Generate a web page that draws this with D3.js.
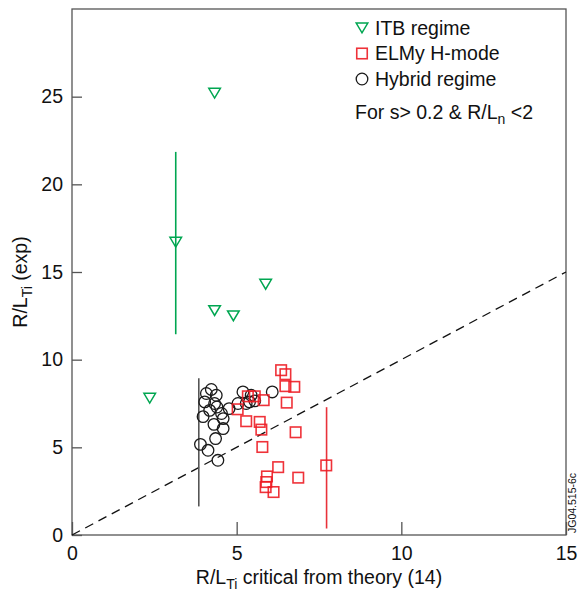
<!DOCTYPE html>
<html><head><meta charset="utf-8">
<script src="https://cdn.jsdelivr.net/npm/d3@7/dist/d3.min.js"></script>
<style>
body{margin:0;background:#fff;}
svg{display:block;font-family:"Liberation Sans",Arial,Helvetica,sans-serif;}
</style></head><body>
<svg id="c" width="582" height="592"></svg>
<script>
// ---- data ----
const itbX = [4.33, 3.15, 5.88, 4.33, 4.90, 2.36];
const itbY = [25.2, 16.7, 14.3, 12.8, 12.5, 7.8];

const elmyX = [6.35, 6.48, 6.48, 6.75, 6.52, 5.03, 5.34, 5.55, 5.82, 5.29, 5.70, 5.75, 6.79, 5.78, 6.26, 6.87, 5.92, 5.90, 5.88, 6.12, 7.72];
const elmyY = [9.40, 9.17, 8.49, 8.45, 7.55, 7.17, 7.91, 7.91, 7.69, 6.49, 6.45, 6.01, 5.86, 5.02, 3.87, 3.27, 3.34, 3.02, 2.73, 2.45, 3.97];

const hybridX = [4.23, 4.08, 4.38, 4.03, 4.33, 5.19, 6.08, 5.44, 5.55, 5.29, 5.04, 4.77, 4.54, 4.40, 4.18, 3.98, 4.59, 4.59, 4.31, 4.36, 3.90, 4.13, 4.43, 5.39];
const hybridY = [8.30, 8.07, 7.97, 7.59, 7.50, 8.16, 8.16, 7.97, 7.65, 7.50, 7.50, 7.21, 6.93, 7.30, 7.11, 6.75, 6.64, 6.07, 6.31, 5.50, 5.17, 4.83, 4.26, 7.59];

// error bars: [series, x, low, high]
const errSeries = ["itb", "hybrid", "elmy"];
const errX = [3.15, 3.85, 7.73];
const errLow = [11.45, 1.63, 0.37];
const errHigh = [21.85, 8.94, 7.29];

const xTicks = [0, 5, 10, 15];
const yTicks = [0, 5, 10, 15, 20, 25];
const diagX = [0, 15];

const legendLabels = ["ITB regime", "ELMy H-mode", "Hybrid regime"];

// ---- layout ----
const svg = d3.select("#c");
const L = 72, R = 566, T = 9, B = 535;
const x = d3.scaleLinear().domain([0, 15]).range([L, R]);
const y = d3.scaleLinear().domain([0, 30]).range([B, T]);

const colors = {itb: "#00a651", elmy: "#ed1c24", hybrid: "#1a1a1a"};
const errColors = {itb: "#00a651", elmy: "#e8323a", hybrid: "#555"};
const axisColor = "#555";
const FS = "19.5px", SUB = "14px";

// frame
svg.append("rect").attr("x", L).attr("y", T).attr("width", R - L).attr("height", B - T)
  .attr("fill", "none").attr("stroke", axisColor).attr("stroke-width", 1.3);

// axes (inward ticks)
const xAxis = d3.axisBottom(x).tickValues(xTicks).tickSize(-13).tickPadding(16).tickFormat(d3.format("d"));
const gx = svg.append("g").attr("transform", `translate(0,${B})`).call(xAxis);
const yAxis = d3.axisLeft(y).tickValues(yTicks).tickSize(-10).tickPadding(14).tickFormat(d3.format("d"));
const gy = svg.append("g").attr("transform", `translate(${L},0)`).call(yAxis);
[gx, gy].forEach(g => {
  g.select(".domain").remove();
  g.selectAll(".tick line").attr("stroke", axisColor).attr("stroke-width", 1.3);
  g.selectAll(".tick text").attr("fill", "#111").style("font-size", FS);
});
gy.selectAll(".tick text").attr("dy", "0.32em").attr("dx", "5");
gx.selectAll(".tick text").attr("dy", "0.45em");

// diagonal dashed line
svg.append("line")
  .attr("x1", x(diagX[0])).attr("y1", y(diagX[0]))
  .attr("x2", x(diagX[1])).attr("y2", y(diagX[1]))
  .attr("stroke", "#111").attr("stroke-width", 1.3).attr("stroke-dasharray", "9,6");

// error bars
errSeries.forEach((s, i) => {
  svg.append("line")
    .attr("x1", x(errX[i])).attr("x2", x(errX[i]))
    .attr("y1", y(errLow[i])).attr("y2", y(errHigh[i]))
    .attr("stroke", errColors[s]).attr("stroke-width", 1.6);
});

// markers
function tri(g, cx, cy, col) {
  const w = 5.8, h = 9.8;
  g.append("path")
    .attr("d", `M${cx - w},${cy - h / 2}L${cx + w},${cy - h / 2}L${cx},${cy + h / 2}Z`)
    .attr("fill", "none").attr("stroke", col).attr("stroke-width", 1.5);
}
function sq(g, cx, cy, col) {
  const s = 10.5;
  g.append("rect").attr("x", cx - s / 2).attr("y", cy - s / 2).attr("width", s).attr("height", s)
    .attr("fill", "none").attr("stroke", col).attr("stroke-width", 1.6).attr("stroke-opacity", 0.9);
}
function circ(g, cx, cy, col) {
  g.append("circle").attr("cx", cx).attr("cy", cy).attr("r", 5.8)
    .attr("fill", "none").attr("stroke", col).attr("stroke-width", 1.3);
}

const gm = svg.append("g");
hybridX.forEach((v, i) => circ(gm, x(v), y(hybridY[i]), colors.hybrid));
elmyX.forEach((v, i) => sq(gm, x(v), y(elmyY[i]), colors.elmy));
itbX.forEach((v, i) => tri(gm, x(v), y(itbY[i]), colors.itb));

// legend
const lg = svg.append("g");
const lgX = 362, lgY0 = 28, lgDy = 25.5;
tri(lg, lgX, lgY0, colors.itb);
sq(lg, lgX, lgY0 + lgDy, colors.elmy);
circ(lg, lgX, lgY0 + 2 * lgDy, colors.hybrid);
legendLabels.forEach((t, i) => {
  lg.append("text").attr("x", lgX + 13).attr("y", lgY0 + i * lgDy).attr("dy", "0.35em")
    .style("font-size", FS).attr("fill", "#111").text(t);
});
const note = lg.append("text").attr("x", 355).attr("y", lgY0 + 3 * lgDy + 8).attr("dy", "0.35em")
  .style("font-size", FS).attr("fill", "#111");
note.append("tspan").text("For s> 0.2 & R/L");
note.append("tspan").attr("dy", "5").style("font-size", SUB).text("n");
note.append("tspan").attr("dy", "-5").text(" <2");

// axis titles
const xt = svg.append("text").attr("x", (L + R) / 2).attr("y", 584).attr("text-anchor", "middle")
  .style("font-size", FS).attr("fill", "#111");
xt.append("tspan").text("R/L");
xt.append("tspan").attr("dy", "5").style("font-size", SUB).text("Ti");
xt.append("tspan").attr("dy", "-5").text(" critical from theory (14)");

const yt = svg.append("text").attr("transform", `translate(27,${(T + B) / 2 + 10}) rotate(-90)`)
  .attr("text-anchor", "middle").style("font-size", FS).attr("fill", "#111");
yt.append("tspan").text("R/L");
yt.append("tspan").attr("dy", "5").style("font-size", SUB).text("Ti");
yt.append("tspan").attr("dy", "-5").text(" (exp)");

// figure code
svg.append("text").attr("transform", `translate(576,${B - 2}) rotate(-90)`)
  .style("font-size", "10.5px").attr("fill", "#111").text("JG04.515-6c");
</script>
</body></html>
